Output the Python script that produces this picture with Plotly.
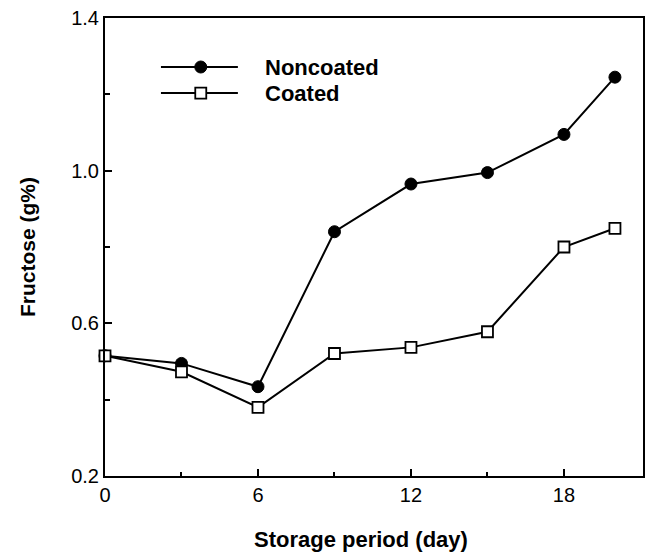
import plotly.graph_objects as go

days = [0, 3, 6, 9, 12, 15, 18, 20]
noncoated = [0.515, 0.495, 0.434, 0.84, 0.965, 0.995, 1.095, 1.245]
coated = [0.515, 0.473, 0.380, 0.521, 0.537, 0.578, 0.800, 0.849]

x_ticks = [0, 6, 12, 18]
y_ticks = [0.2, 0.6, 1.0, 1.4]
x_title = "Storage period (day)"
y_title = "Fructose (g%)"
series_names = ["Noncoated", "Coated"]

FONT = "Liberation Sans, Arial, Helvetica, sans-serif"

fig = go.Figure()
fig.add_trace(go.Scatter(
    x=days, y=noncoated, mode="lines+markers", name=series_names[0],
    line=dict(color="black", width=2),
    marker=dict(symbol="circle", size=12, color="black", line=dict(color="black", width=1)),
    showlegend=False, cliponaxis=False,
))
fig.add_trace(go.Scatter(
    x=days, y=coated, mode="lines+markers", name=series_names[1],
    line=dict(color="black", width=2),
    marker=dict(symbol="square", size=11, color="white", line=dict(color="black", width=1.8)),
    showlegend=False, cliponaxis=False,
))

# Custom legend (paper coordinates)
leg_x0, leg_x1, leg_xm, leg_text = 0.104, 0.247, 0.178, 0.294
leg_y = [0.893, 0.836]
shapes = []
for yy in leg_y:
    shapes.append(dict(type="line", xref="paper", yref="paper", x0=leg_x0, x1=leg_x1,
                       y0=yy, y1=yy, line=dict(color="black", width=2)))
shapes.append(dict(type="circle", xref="paper", yref="paper", xsizemode="pixel", ysizemode="pixel",
                   xanchor=leg_xm, yanchor=leg_y[0], x0=-6, x1=6, y0=-6, y1=6,
                   fillcolor="black", line=dict(color="black", width=1)))
shapes.append(dict(type="rect", xref="paper", yref="paper", xsizemode="pixel", ysizemode="pixel",
                   xanchor=leg_xm, yanchor=leg_y[1], x0=-5.5, x1=5.5, y0=-5.5, y1=5.5,
                   fillcolor="white", line=dict(color="black", width=1.8)))
annotations = []
for name, yy in zip(series_names, leg_y):
    annotations.append(dict(text="<b>%s</b>" % name, xref="paper", yref="paper", x=leg_text, y=yy,
                            xanchor="left", yanchor="middle", showarrow=False,
                            font=dict(family=FONT, size=22, color="black")))
# x-axis title (slightly left of centre, as in the original)
annotations.append(dict(text="<b>%s</b>" % x_title, xref="paper", yref="paper", x=0.476, y=-0.1376,
                        xanchor="center", yanchor="middle", showarrow=False,
                        font=dict(family=FONT, size=22, color="black")))

fig.update_layout(
    width=650, height=546,
    margin=dict(l=97, r=15, t=10, b=78),
    paper_bgcolor="white", plot_bgcolor="white",
    font=dict(family=FONT, color="black"),
    shapes=shapes, annotations=annotations,
)
fig.update_xaxes(
    automargin=False, ticklabeloverflow="allow",
    range=[0, 21.1], tickmode="array", tickvals=x_ticks, ticktext=[str(v) for v in x_ticks],
    ticks="inside", ticklen=7, tickwidth=1.5, tickcolor="black",
    minor=dict(tickvals=[3, 9, 15], ticks="inside", ticklen=4, tickwidth=1.5, tickcolor="black"),
    showline=True, linecolor="black", linewidth=2, mirror=True,
    showgrid=False, zeroline=False,
    tickfont=dict(family=FONT, size=20, color="black"),
)
fig.update_yaxes(
    automargin=False, ticklabeloverflow="allow",
    range=[0.2, 1.4], tickmode="array", tickvals=y_ticks, ticktext=["%.1f" % v for v in y_ticks],
    ticks="inside", ticklen=7, tickwidth=1.5, tickcolor="black",
    minor=dict(tickvals=[0.4, 0.8, 1.2], ticks="inside", ticklen=5, tickwidth=1.5, tickcolor="black"),
    showline=True, linecolor="black", linewidth=2, mirror=True,
    showgrid=False, zeroline=False,
    tickfont=dict(family=FONT, size=20, color="black"),
    title=dict(text="<b>%s</b>" % y_title, font=dict(family=FONT, size=21, color="black"), standoff=30),
)

fig.write_html("out.html")
